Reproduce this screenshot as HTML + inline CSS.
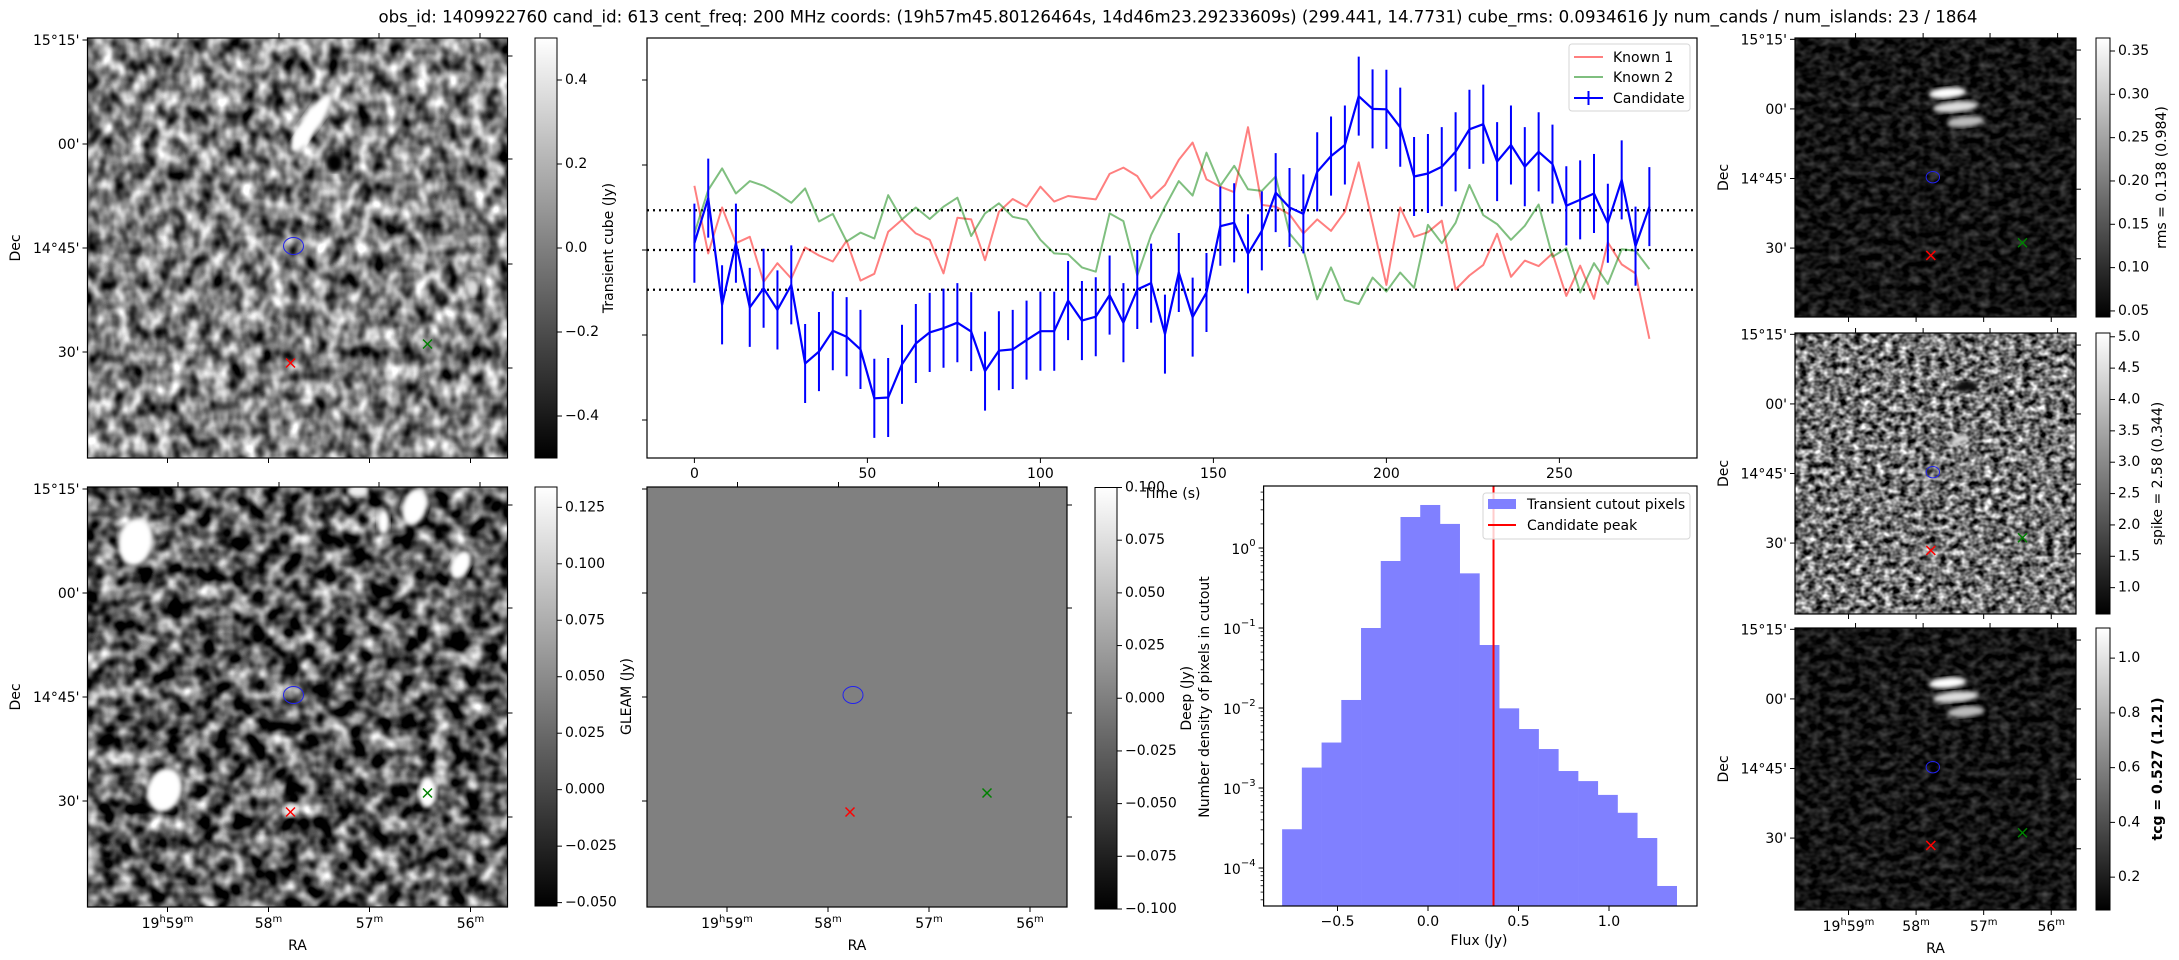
<!DOCTYPE html>
<html><head><meta charset="utf-8"><title>Transient candidate 613</title>
<style>
html,body{margin:0;padding:0;background:#fff;}
svg{display:block;font-family:"DejaVu Sans","Liberation Sans",sans-serif;}
</style></head>
<body>
<svg id="fig" xmlns="http://www.w3.org/2000/svg" width="2179" height="960" viewBox="0 0 2179 960">
<defs>
  <linearGradient id="gcmap" x1="0" y1="1" x2="0" y2="0">
    <stop offset="0" stop-color="#000"/><stop offset="1" stop-color="#fff"/>
  </linearGradient>
  <filter id="noiseMid" x="0" y="0" width="100%" height="100%" color-interpolation-filters="sRGB">
    <feTurbulence type="fractalNoise" baseFrequency="0.07 0.055" numOctaves="2" seed="7"/>
    <feColorMatrix type="matrix" values="1.7 0 0 0 -0.35  1.7 0 0 0 -0.35  1.7 0 0 0 -0.35  0 0 0 0 1"/>
  </filter>
  <filter id="noiseDeep" x="0" y="0" width="100%" height="100%" color-interpolation-filters="sRGB">
    <feTurbulence type="fractalNoise" baseFrequency="0.06" numOctaves="2" seed="21"/>
    <feColorMatrix type="matrix" values="1.9 0 0 0 -0.6  1.9 0 0 0 -0.6  1.9 0 0 0 -0.6  0 0 0 0 1"/>
  </filter>
  <filter id="noiseSpike" x="0" y="0" width="100%" height="100%" color-interpolation-filters="sRGB">
    <feTurbulence type="fractalNoise" baseFrequency="0.13 0.16" numOctaves="2" seed="4"/>
    <feColorMatrix type="matrix" values="1.7 0 0 0 -0.4  1.7 0 0 0 -0.4  1.7 0 0 0 -0.4  0 0 0 0 1"/>
  </filter>
  <filter id="noiseDark" x="0" y="0" width="100%" height="100%" color-interpolation-filters="sRGB">
    <feTurbulence type="fractalNoise" baseFrequency="0.1 0.13" numOctaves="2" seed="11"/>
    <feColorMatrix type="matrix" values="0.5 0 0 0 -0.17  0.5 0 0 0 -0.17  0.5 0 0 0 -0.17  0 0 0 0 1"/>
  </filter>
  <filter id="blur3"><feGaussianBlur stdDeviation="3"/></filter>
  <filter id="blur2"><feGaussianBlur stdDeviation="2"/></filter>
</defs>
</svg>
<script>
// ---------------- data ----------------
const times = [0,4,8,12,16,20,24,28,32,36,40,44,48,52,56,60,64,68,72,76,80,84,88,92,96,100,104,108,112,116,120,124,128,132,136,140,144,148,152,156,160,164,168,172,176,180,184,188,192,196,200,204,208,212,216,220,224,228,232,236,240,244,248,252,256,260,264,268,272,276];
const candidateFlux = [0.016,0.122,-0.129,0.016,-0.135,-0.090,-0.141,-0.082,-0.267,-0.239,-0.190,-0.204,-0.234,-0.349,-0.347,-0.269,-0.220,-0.194,-0.184,-0.171,-0.192,-0.285,-0.237,-0.234,-0.212,-0.191,-0.191,-0.119,-0.166,-0.157,-0.106,-0.171,-0.093,-0.078,-0.198,-0.053,-0.158,-0.100,0.056,0.064,-0.009,0.045,0.135,0.100,0.085,0.184,0.221,0.247,0.362,0.332,0.331,0.289,0.173,0.180,0.196,0.231,0.284,0.296,0.208,0.247,0.196,0.231,0.202,0.104,0.118,0.133,0.063,0.165,0.009,0.102];
const candidateErr = 0.093;
const known1Flux = [0.151,-0.008,0.100,0.016,0.031,-0.075,-0.031,-0.067,0.006,-0.013,-0.027,0.022,-0.072,-0.056,0.043,0.071,0.039,0.024,-0.055,0.076,0.072,-0.024,0.090,0.120,0.102,0.149,0.114,0.127,0.123,0.119,0.179,0.194,0.174,0.122,0.153,0.212,0.253,0.166,0.149,0.136,0.289,0.106,0.102,0.084,0.039,0.072,0.045,0.090,0.206,0.063,-0.082,0.100,0.031,0.042,0.069,-0.093,-0.060,-0.035,0.038,-0.063,-0.025,-0.038,-0.008,-0.108,-0.037,-0.115,0.018,-0.034,-0.055,-0.209];
const known2Flux = [0.039,0.141,0.192,0.133,0.162,0.151,0.133,0.111,0.145,0.067,0.085,0.020,0.041,0.027,0.129,0.072,0.100,0.073,0.102,0.123,0.033,0.086,0.110,0.078,0.071,0.024,-0.008,-0.010,-0.041,-0.051,0.086,0.068,-0.060,0.035,0.102,0.162,0.128,0.229,0.151,0.198,0.143,0.139,0.173,0.039,0.000,-0.116,-0.041,-0.118,-0.127,-0.065,-0.098,-0.053,-0.089,0.059,0.016,0.064,0.153,0.082,0.061,0.024,0.057,0.107,-0.016,0.004,-0.100,-0.031,-0.080,0.002,-0.002,-0.045];
const cubeRms = 0.0934616;
const lcXTicks = [0,50,100,150,200,250];
const lcYTicks = [-0.4,-0.2,0.0,0.2,0.4];

const histEdgeStart = -0.806;
const histBinWidth = 0.109;
const histDensity = [3.05e-4,1.80e-3,3.7e-3,1.26e-2,0.100,0.688,2.44,3.45,2.0,0.482,0.0613,0.0099,0.00546,0.00307,0.00163,0.00122,8.2e-4,4.9e-4,2.37e-4,5.96e-5];
const candidatePeak = 0.362;
const histXTicks = [-0.5,0.0,0.5,1.0];
const histXTickLabels = ["\u22120.5","0.0","0.5","1.0"];
const histYDecades = [0,-1,-2,-3,-4];

const cb1Ticks = [-0.4,-0.2,0.0,0.2,0.4];
const cb1Labels = ["\u22120.4","\u22120.2","0.0","0.2","0.4"];
const cb4Ticks = [-0.05,-0.025,0,0.025,0.05,0.075,0.1,0.125];
const cb4Labels = ["\u22120.050","\u22120.025","0.000","0.025","0.050","0.075","0.100","0.125"];
const cb5Ticks = [-0.1,-0.075,-0.05,-0.025,0,0.025,0.05,0.075,0.1];
const cb5Labels = ["\u22120.100","\u22120.075","\u22120.050","\u22120.025","0.000","0.025","0.050","0.075","0.100"];
const cbATicks = [0.05,0.10,0.15,0.20,0.25,0.30,0.35];
const cbALabels = ["0.05","0.10","0.15","0.20","0.25","0.30","0.35"];
const cbBTicks = [1.0,1.5,2.0,2.5,3.0,3.5,4.0,4.5,5.0];
const cbBLabels = ["1.0","1.5","2.0","2.5","3.0","3.5","4.0","4.5","5.0"];
const cbCTicks = [0.2,0.4,0.6,0.8,1.0];
const cbCLabels = ["0.2","0.4","0.6","0.8","1.0"];
const decLabels = ["15\u00b015'","00'","14\u00b045'","30'"];
const raLabels = [["19","h","59","m"],["","","58","m"],["","","57","m"],["","","56","m"]];

// ---------------- helpers ----------------
const NS = "http://www.w3.org/2000/svg";
const svg = document.getElementById("fig");
function mk(tag, attrs, parent, name) {
  const el = document.createElementNS(NS, tag);
  for (const k in attrs) el.setAttribute(k, attrs[k]);
  
  
  (parent || svg).appendChild(el);
  return el;
}
function grp(name, parent) { return mk("g", {}, parent, name); }
function line(p, x1, y1, x2, y2, stroke, w, name, extra) {
  const a = {x1:x1, y1:y1, x2:x2, y2:y2, stroke:stroke, "stroke-width":w};
  if (extra) for (const k in extra) a[k] = extra[k];
  return mk("line", a, p, name);
}
function txt(p, x, y, s, size, anchor, name, extra) {
  const a = {x:x, y:y, "font-size":size, "text-anchor":anchor||"start", fill:"#000", "dominant-baseline":"central"};
  if (extra) for (const k in extra) a[k] = extra[k];
  const t = mk("text", a, p, name);
  t.textContent = s;
  return t;
}

// title
txt(svg, 1178, 17, "obs_id: 1409922760 cand_id: 613 cent_freq: 200 MHz coords: (19h57m45.80126464s, 14d46m23.29233609s) (299.441, 14.7731) cube_rms: 0.0934616 Jy num_cands / num_islands: 23 / 1864", 16.5, "middle", "figure-title", {textLength:1599, lengthAdjust:"spacingAndGlyphs"});

// ---------------- image panel ----------------
function imagePanel(name, x, y, w, h, opts) {
  const g = grp(name);
  const s = w / 420;
  const clipId = "clip-" + name;
  const cp = mk("clipPath", {id: clipId}, g, name + "-clip");
  mk("rect", {x:x, y:y, width:w, height:h}, cp, name + "-clip-rect");
  const ig = mk("g", {"clip-path": "url(#" + clipId + ")"}, g, name + "-pixels");
  if (opts.flat) {
    mk("rect", {x:x, y:y, width:w, height:h, fill:opts.flat}, ig, name + "-background");
  } else {
    mk("rect", {x:x, y:y, width:w, height:h, fill:"#808080", filter:"url(#" + opts.filter + ")"}, ig, name + "-noise");
  }
  (opts.blobs || []).forEach(function(b, i) {
    mk("ellipse", {cx:x + b[0]*s, cy:y + b[1]*s, rx:b[2]*s, ry:b[3]*s, fill:b[4], transform:"rotate(" + (b[5]||0) + " " + (x + b[0]*s) + " " + (y + b[1]*s) + ")", filter:"url(#" + (b[6]||"blur2") + ")"}, ig, name + "-source-" + i);
  });
  mk("rect", {x:x, y:y, width:w, height:h, fill:"none", stroke:"#000", "stroke-width":1.2}, g, name + "-frame");
  mk("ellipse", {cx:x + 206*s, cy:y + 208*s, rx:10*s, ry:8.5*s, fill:"none", stroke:"#2222ee", "stroke-width":1}, g, name + "-candidate-ellipse");
  const m = 4.5;
  const rx = x + 203*s, ry = y + 325*s;
  line(g, rx-m, ry-m, rx+m, ry+m, "#ff0000", 1.5, name + "-known1-marker");
  line(g, rx-m, ry+m, rx+m, ry-m, "#ff0000", 1.5, name + "-known1-marker");
  const gx = x + 340*s, gy = y + 306*s;
  line(g, gx-m, gy-m, gx+m, gy+m, "#008000", 1.5, name + "-known2-marker");
  line(g, gx-m, gy+m, gx+m, gy-m, "#008000", 1.5, name + "-known2-marker");
  [80,181,282,383].forEach(function(t){ line(g, x + t*s, y + h, x + t*s, y + h + 5, "#000", 1, name + "-bottom-tick"); });
  [90.5,191.5,291.5,392.5].forEach(function(t){ line(g, x + t*s, y, x + t*s, y - 5, "#000", 1, name + "-top-tick"); });
  [2,106,210,314].forEach(function(t){ line(g, x, y + t*s, x - 5, y + t*s, "#000", 1, name + "-left-tick"); });
  [18,121,226,330].forEach(function(t){ line(g, x + w, y + t*s, x + w + 5, y + t*s, "#000", 1, name + "-right-tick"); });
  if (opts.dec) {
    [2,106,210,314].forEach(function(t, i){ txt(g, x - 8, y + t*s + 1, decLabels[i], 14, "end", name + "-dec-tick-label"); });
    txt(g, opts.decX, y + h/2, "Dec", 14, "middle", name + "-dec-axis-title", {transform:"rotate(-90 " + opts.decX + " " + (y + h/2) + ")"});
  }
  if (opts.ra) {
    [80,181,282,383].forEach(function(t, i){
      const lab = raLabels[i];
      const tt = mk("text", {x:x + t*s, y:y + h + 17, "font-size":14, "text-anchor":"middle", "dominant-baseline":"central"}, g, name + "-ra-tick-label");
      if (lab[0]) { const a = mk("tspan", {}, tt, "ra-hours"); a.textContent = lab[0]; const b = mk("tspan", {"font-size":10, dy:-5}, tt, "ra-h"); b.textContent = lab[1]; const c = mk("tspan", {"font-size":14, dy:5}, tt, "ra-min"); c.textContent = lab[2]; }
      else { const c = mk("tspan", {}, tt, "ra-min"); c.textContent = lab[2]; }
      const d = mk("tspan", {"font-size":10, dy:-5}, tt, "ra-m"); d.textContent = lab[3];
    });
    txt(g, x + w/2, y + h + 39, "RA", 14, "middle", name + "-ra-axis-title");
  }
  return g;
}

function colorbar(name, x, y0, y1, w, vmin, vmax, ticks, labels, label, labelX, bold) {
  const g = grp(name);
  mk("rect", {x:x, y:y0, width:w, height:y1-y0, fill:"url(#gcmap)", stroke:"#000", "stroke-width":1}, g, name + "-gradient");
  const ymap = function(v){ return y1 - (v - vmin)/(vmax - vmin)*(y1 - y0); };
  ticks.forEach(function(t, i){
    const yy = ymap(t);
    line(g, x + w, yy, x + w + 5, yy, "#000", 1, name + "-tick");
    txt(g, x + w + 8, yy, labels[i], 14, "start", name + "-tick-label");
  });
  const yc = (y0 + y1)/2;
  const ex = {transform:"rotate(-90 " + labelX + " " + yc + ")"};
  if (bold) ex["font-weight"] = "bold";
  txt(g, labelX, yc, label, 14, "middle", name + "-title", ex);
  return g;
}

// ---------------- panels ----------------
imagePanel("transient-cube-image", 87.5, 38, 420, 420, {filter:"noiseMid", dec:true, decX:16,
  blobs:[[225,82,9,30,"#fff",35],[214,100,7,16,"#fff",35],[247,125,8,9,"#000"],[385,250,6,8,"#ddd"]]});
colorbar("transient-colorbar", 535, 38, 458, 22, -0.5, 0.5, cb1Ticks, cb1Labels, "Transient cube (Jy)", 609);

imagePanel("deep-image", 87.5, 487, 420, 420, {filter:"noiseDeep", dec:true, decX:16, ra:true,
  blobs:[[48,55,17,24,"#fff",10],[327,20,12,18,"#fff",15],[296,35,6,12,"#fff",0],[373,78,9,15,"#fff",25],[77,303,17,22,"#fff",15],[340,305,9,15,"#fff",0],[203,323,7,7,"#eee"],[270,4,10,6,"#eee"]]});
colorbar("deep-colorbar", 535, 487, 906, 22, -0.0515, 0.134, cb4Ticks, cb4Labels, "GLEAM (Jy)", 627);

imagePanel("gleam-image", 647, 487, 420, 420, {flat:"#808080", ra:true});
colorbar("gleam-colorbar", 1095, 487.5, 909, 22, -0.1, 0.1, cb5Ticks, cb5Labels, "Deep (Jy)", 1187);

imagePanel("rms-image", 1795, 38, 281, 279, {filter:"noiseDark", dec:true, decX:1724,
  blobs:[[228,82,28,8,"#fff",-5],[240,103,34,8,"#ddd",-5],[255,125,28,8,"#bbb",-5]]});
colorbar("rms-colorbar", 2096, 38, 317, 14, 0.043, 0.365, cbATicks, cbALabels, "rms = 0.138 (0.984)", 2162);

imagePanel("spike-image", 1795, 333, 281, 281, {filter:"noiseSpike", dec:true, decX:1724,
  blobs:[[255,80,18,8,"#111",-5],[245,160,15,6,"#ddd",-20]]});
colorbar("spike-colorbar", 2096, 333, 614, 14, 0.58, 5.06, cbBTicks, cbBLabels, "spike = 2.58 (0.344)", 2158);

imagePanel("tcg-image", 1795, 628, 281, 282, {filter:"noiseDark", dec:true, decX:1724, ra:true,
  blobs:[[228,82,28,8,"#fff",-5],[240,103,34,8,"#ddd",-5],[255,125,28,8,"#bbb",-5]]});
colorbar("tcg-colorbar", 2096, 628, 910, 14, 0.08, 1.11, cbCTicks, cbCLabels, "tcg = 0.527 (1.21)", 2158, true);

// ---------------- light curve ----------------
const lcL = 647, lcR = 1697, lcT = 38, lcB = 458;
function lcX(t){ return 694.4 + 3.46*t; }
function lcY(v){ return 250 - v*425; }
const lc = grp("light-curve-chart");
mk("rect", {x:lcL, y:lcT, width:lcR-lcL, height:lcB-lcT, fill:"#fff", stroke:"none"}, lc, "light-curve-plot-area");
[cubeRms, 0, -cubeRms].forEach(function(v){
  line(lc, lcL, lcY(v), lcR, lcY(v), "#000", 2.2, "rms-reference-line", {"stroke-dasharray":"2,4"});
});
function polyline(vals, color, w, name, opacity) {
  const pts = vals.map(function(v, i){ return lcX(times[i]).toFixed(1) + "," + lcY(v).toFixed(1); }).join(" ");
  return mk("polyline", {points:pts, fill:"none", stroke:color, "stroke-width":w, "stroke-opacity":opacity||1, "stroke-linejoin":"round"}, lc, name);
}
polyline(known1Flux, "#ff0000", 2, "known1-series", 0.5);
polyline(known2Flux, "#008000", 2, "known2-series", 0.5);
candidateFlux.forEach(function(v, i){
  line(lc, lcX(times[i]), lcY(v - candidateErr), lcX(times[i]), lcY(v + candidateErr), "#0000ff", 2, "candidate-errorbar");
});
polyline(candidateFlux, "#0000ff", 2.2, "candidate-series", 1);
mk("rect", {x:lcL, y:lcT, width:lcR-lcL, height:lcB-lcT, fill:"none", stroke:"#000", "stroke-width":1.2}, lc, "light-curve-frame");
lcXTicks.forEach(function(t){
  line(lc, lcX(t), lcB, lcX(t), lcB + 5, "#000", 1, "time-tick");
  txt(lc, lcX(t), lcB + 16, String(t), 14, "middle", "time-tick-label");
});
lcYTicks.forEach(function(v){ line(lc, lcL, lcY(v), lcL - 5, lcY(v), "#000", 1, "flux-tick"); });
txt(lc, 1172, 494, "Time (s)", 14, "middle", "time-axis-title");
const lg = grp("light-curve-legend", lc);
mk("rect", {x:1569, y:44, width:121, height:67, rx:3, fill:"#fff", "fill-opacity":0.8, stroke:"#d6d6d6", "stroke-width":1}, lg, "legend-box");
line(lg, 1574, 57, 1603, 57, "#ff0000", 2, "legend-known1-line", {"stroke-opacity":0.5});
txt(lg, 1613, 58, "Known 1", 14, "start", "legend-known1-label");
line(lg, 1574, 77, 1603, 77, "#008000", 2, "legend-known2-line", {"stroke-opacity":0.5});
txt(lg, 1613, 78, "Known 2", 14, "start", "legend-known2-label");
line(lg, 1574, 98, 1603, 98, "#0000ff", 2, "legend-candidate-line");
line(lg, 1588.5, 91, 1588.5, 105, "#0000ff", 2, "legend-candidate-errorbar");
txt(lg, 1613, 99, "Candidate", 14, "start", "legend-candidate-label");

// ---------------- histogram ----------------
const hL = 1263.6, hR = 1697, hT = 486, hB = 906;
function hX(v){ return 1428 + v*181; }
function hY(d){ return 548 - 80*Math.log10(d); }
const hg = grp("flux-histogram");
const hclip = mk("clipPath", {id:"hclip"}, hg, "histogram-clip");
mk("rect", {x:hL, y:hT, width:hR-hL, height:hB-hT}, hclip, "histogram-clip-rect");
const hbars = mk("g", {"clip-path":"url(#hclip)"}, hg, "histogram-bars");
histDensity.forEach(function(d, i){
  const x0 = hX(histEdgeStart + i*histBinWidth), x1 = hX(histEdgeStart + (i+1)*histBinWidth);
  mk("rect", {x:x0, y:hY(d), width:x1-x0 + 0.3, height:hB - hY(d), fill:"#8080ff"}, hbars, "histogram-bar");
});
line(hg, hX(candidatePeak), hT, hX(candidatePeak), hB, "#ff0000", 2, "candidate-peak-line");
mk("rect", {x:hL, y:hT, width:hR-hL, height:hB-hT, fill:"none", stroke:"#000", "stroke-width":1.2}, hg, "histogram-frame");
histXTicks.forEach(function(v, i){
  line(hg, hX(v), hB, hX(v), hB + 5, "#000", 1, "flux-tick");
  txt(hg, hX(v), hB + 16, histXTickLabels[i], 14, "middle", "flux-tick-label");
});
histYDecades.forEach(function(dec){
  const yy = hY(Math.pow(10, dec));
  line(hg, hL, yy, hL - 5, yy, "#000", 1, "density-tick");
  const t = mk("text", {x:hL - 8, y:yy + 2, "font-size":14, "text-anchor":"end", "dominant-baseline":"central"}, hg, "density-tick-label");
  const a = mk("tspan", {}, t, "tick-base"); a.textContent = "10";
  const b = mk("tspan", {"font-size":10, dy:-7}, t, "tick-exponent"); b.textContent = dec === 0 ? "0" : "\u2212" + (-dec);
});
[-5,-4,-3,-2,-1,0].forEach(function(dec){
  [2,3,4,5,6,7,8,9].forEach(function(k){
    const yy = hY(k*Math.pow(10, dec));
    if (yy > hT && yy < hB) line(hg, hL, yy, hL - 3, yy, "#000", 0.8, "density-minor-tick");
  });
});
txt(hg, 1479, 941, "Flux (Jy)", 14, "middle", "flux-axis-title");
txt(hg, 1205, 697, "Number density of pixels in cutout", 14, "middle", "density-axis-title", {transform:"rotate(-90 1205 697)"});
const hl = grp("histogram-legend", hg);
mk("rect", {x:1483, y:493, width:207, height:46, rx:3, fill:"#fff", "fill-opacity":0.8, stroke:"#d6d6d6", "stroke-width":1}, hl, "histogram-legend-box");
mk("rect", {x:1488, y:499, width:28, height:10, fill:"#8080ff"}, hl, "legend-pixels-swatch");
txt(hl, 1527, 505, "Transient cutout pixels", 14, "start", "legend-pixels-label");
line(hl, 1488, 525, 1516, 525, "#ff0000", 2, "legend-peak-line");
txt(hl, 1527, 526, "Candidate peak", 14, "start", "legend-peak-label");
</script>
</body></html>
